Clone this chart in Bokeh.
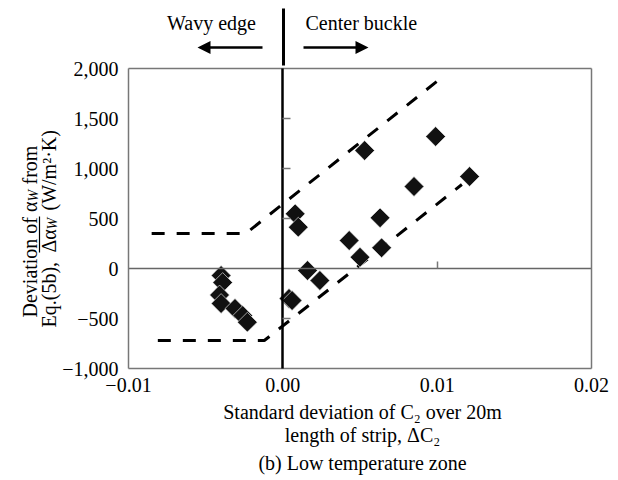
from bokeh.plotting import figure
from bokeh.models import Range1d, FixedTicker, Label, PolyAnnotation, LinearAxis
from bokeh.embed import file_html
from bokeh.resources import INLINE

# ---- data ----
wavy_x = [-0.0040, -0.0039, -0.0041, -0.0040, -0.0031, -0.0026, -0.0023]
wavy_y = [-70, -140, -265, -350, -400, -470, -537]

buckle_x = [0.0008, 0.0010, 0.0016, 0.0024, 0.0004, 0.0006, 0.0043, 0.0050,
            0.0064, 0.0063, 0.0053, 0.0085, 0.0099, 0.0121]
buckle_y = [547, 413, -20, -120, -300, -320, 280, 113,
            207, 507, 1180, 820, 1320, 920]

upper_x = [-0.0085, -0.0024, 0.0103]
upper_y = [350, 350, 1910]
lower_x = [-0.0081, -0.0012, 0.0116]
lower_y = [-720, -720, 840]

x_lim = [-0.01, 0.02]
y_lim = [-1000, 2000]
x_ticks = [-0.01, 0.0, 0.01, 0.02]
x_tick_labels = ["\u22120.01", "0.00", "0.01", "0.02"]
y_ticks = [-1000, -500, 0, 500, 1000, 1500, 2000]
y_tick_labels = ["\u22121,000", "\u2212500", "0", "500", "1,000", "1,500", "2,000"]

FONT = "Liberation Serif"
GRAY = "#777777"

# ---- layout: the frame is the whole canvas, the box sits inside it ----
W, H = 618, 480
BOX_L, BOX_R, BOX_T, BOX_B = 128, 591, 68, 368
xs = (x_lim[1] - x_lim[0]) / (BOX_R - BOX_L)
ys = (y_lim[1] - y_lim[0]) / (BOX_B - BOX_T)
x_range = Range1d(x_lim[0] - BOX_L * xs, x_lim[1] + (W - BOX_R) * xs)
y_range = Range1d(y_lim[0] - (H - BOX_B) * ys, y_lim[1] + BOX_T * ys)

p = figure(width=W, height=H, output_backend="svg", toolbar_location=None,
           x_range=x_range, y_range=y_range,
           min_border=0, min_border_left=0, min_border_right=0,
           min_border_top=0, min_border_bottom=0)
p.grid.visible = False
p.outline_line_color = None
p.background_fill_color = "white"
p.border_fill_color = "white"


def style_axis(ax, ticks, labels=None, line_color=GRAY, line_width=1.5,
               tick_in=0, tick_color=GRAY):
    ax.ticker = FixedTicker(ticks=ticks)
    ax.axis_line_color = line_color
    ax.axis_line_width = line_width
    ax.major_tick_out = 0
    ax.major_tick_in = tick_in
    ax.major_tick_line_color = tick_color
    ax.major_tick_line_width = 1.5
    ax.minor_tick_line_color = None
    if labels is None:
        ax.major_label_text_font_size = "0px"
        ax.major_label_text_alpha = 0
    else:
        ax.major_label_overrides = dict(zip(ticks, labels))
        ax.major_label_text_font = FONT
        ax.major_label_text_font_size = "20px"
        ax.major_label_text_color = "black"


# main axes (box left and bottom)
xa = p.xaxis[0]
xa.fixed_location = y_lim[0]
xa.bounds = tuple(x_lim)
style_axis(xa, x_ticks, x_tick_labels)
xa.major_label_standoff = 9

ya = p.yaxis[0]
ya.fixed_location = x_lim[0]
ya.bounds = tuple(y_lim)
style_axis(ya, y_ticks, y_tick_labels)
ya.major_label_standoff = 10

# box right and top
ra = LinearAxis(fixed_location=x_lim[1], bounds=tuple(y_lim))
style_axis(ra, y_ticks)
p.add_layout(ra, "right")
ta = LinearAxis(fixed_location=y_lim[1], bounds=tuple(x_lim))
style_axis(ta, x_ticks)
p.add_layout(ta, "above")

# zero lines with their small inner ticks
zy = LinearAxis(fixed_location=0, bounds=tuple(y_lim))
style_axis(zy, [t for t in y_ticks if t not in (0, y_lim[0], y_lim[1])],
           line_color="black", line_width=2.5, tick_in=8)
p.add_layout(zy, "left")
zx = LinearAxis(fixed_location=0, bounds=tuple(x_lim))
style_axis(zx, [t for t in x_ticks if t not in (0.0, x_lim[0], x_lim[1])],
           line_color="#666666", line_width=1.5, tick_in=7)
p.add_layout(zx, "below")

# dashed envelope lines
p.line(upper_x, upper_y, line_color="black", line_width=3, line_dash="13 12")
p.line(lower_x, lower_y, line_color="black", line_width=3, line_dash="13 12")

# diamonds
for xx, yy in ((wavy_x, wavy_y), (buckle_x, buckle_y)):
    p.scatter(xx, yy, marker="square", size=14, angle=45, angle_units="deg",
              fill_color="#111111", line_color="white", line_width=0.6)


# ---- texts and decorations, positioned in canvas pixels (y from top) ----
def lab(text, x, y, size="20px", align="center", angle=0, style="normal"):
    p.add_layout(Label(x=x, y=H - y, x_units="screen", y_units="screen", text=text,
                       text_font=FONT, text_font_size=size, text_align=align,
                       text_baseline="middle", angle=angle, angle_units="deg",
                       text_font_style=style, text_color="black"))


def poly(xs_, ys_):
    p.add_layout(PolyAnnotation(xs=xs_, ys=[H - v for v in ys_],
                                xs_units="screen", ys_units="screen",
                                fill_color="black", fill_alpha=1.0, line_color=None))


# top annotation
lab("Wavy edge", 211, 22)
lab("Center buckle", 305, 22, align="left")
poly([262, 210, 210, 197, 210, 210, 262], [45.8, 45.8, 40.5, 47, 53.5, 48.2, 48.2])
poly([303, 355, 355, 368, 355, 355, 303], [45.8, 45.8, 40.5, 47, 53.5, 48.2, 48.2])
poly([281.5, 284.5, 284.5, 281.5], [8, 8, 65, 65])

# y-axis title (rotated, two lines), pieces laid bottom-to-top
lab("Deviation of \u03b1", 29, 317, align="left", angle=90)
lab("W", 33, 201, size="14px", align="left", angle=90, style="italic")
lab("from", 29, 184, align="left", angle=90)
lab("Eq.(5b),", 48, 327, align="left", angle=90)
lab("\u0394\u03b1", 48, 252, align="left", angle=90)
lab("W", 52, 229, size="14px", align="left", angle=90, style="italic")
lab("(W/m\u00b2\u00b7K)", 48, 210, align="left", angle=90)
poly([38.4, 39.6, 39.6, 38.4], [252, 252, 216, 216])

# x-axis title and caption
lab("Standard deviation of C\u2082 over 20m", 362, 411)
lab("length of strip, \u0394C\u2082", 362, 434)
lab("(b) Low temperature zone", 362, 462)

open("out.html", "w").write(file_html(p, INLINE))
